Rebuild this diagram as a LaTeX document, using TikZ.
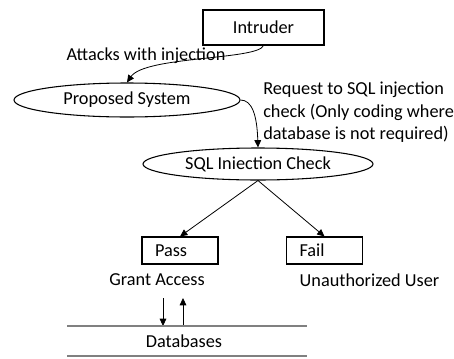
\documentclass[tikz,border=0pt]{standalone}
\usepackage{fontspec}
\setmainfont{Carlito}
\usetikzlibrary{arrows.meta,shapes.geometric}
\begin{document}
\begin{tikzpicture}[x=0.75pt,y=-0.75pt,
  every node/.style={font=\fontsize{13.7}{16}\selectfont, inner sep=0pt},
  box/.style={draw, thick, rectangle},
  ell/.style={draw, thick, ellipse},
  arr/.style={-{Triangle[length=5.5pt,width=5pt]}, semithick},
  lbl/.style={anchor=center}]
\useasboundingbox (0,0) rectangle (454,358);
\node[box, minimum width=90.75pt, minimum height=26.25pt] (intr) at (263.5,27.5) {Intruder};
\node[lbl] (atk) at (146,56) {Attacks with injection};
\node[ell, minimum width=169.5pt, minimum height=25.5pt] (prop) at (127,100) {Proposed System};
\node[anchor=north west, align=left, font=\fontsize{13.7}{16.9}\selectfont] (req) at (263,82) {Request to SQL injection\\check (Only coding where\\database is not required)};
\node[ell, minimum width=172.5pt, minimum height=24pt] (sql) at (258,164) {SQL Iniection Check};
\node[box, minimum height=20.25pt, text width=37.5pt, inner xsep=9.75pt, align=left] (pass) at (180,250.5) {Pass};
\node[box, minimum height=20.25pt, text width=37.5pt, inner xsep=9.75pt, align=left] (fail) at (324.5,250.5) {Fail};
\node[lbl] (grant) at (157,280) {Grant Access};
\node[lbl] (unauth) at (369.5,280) {Unauthorized User};
\node[lbl] (db) at (184,341) {Databases};
\coordinate (dbtl) at (67,326);
\coordinate (dbtr) at (307,326);
\coordinate (dbbl) at (67,356);
\coordinate (dbbr) at (307,356);
\coordinate (d1) at (163,298);
\coordinate (d2) at (163,326);
\coordinate (u1) at (183,326);
\coordinate (u2) at (183,298);
\draw[arr] (intr.south) .. controls (258,60) and (145,56) .. (prop.north);
\draw[arr] (prop.east) .. controls (252,100) and (257,115) .. (sql.north);
\draw[arr] (sql.south) -- (pass.north);
\draw[arr] (sql.south) -- (fail.north);
\draw[arr] (d1) -- (d2);
\draw[arr] (u1) -- (u2);
\draw[gray, thick] (dbtl) -- (dbtr);
\draw[gray, thick] (dbbl) -- (dbbr);
\end{tikzpicture}
\end{document}
